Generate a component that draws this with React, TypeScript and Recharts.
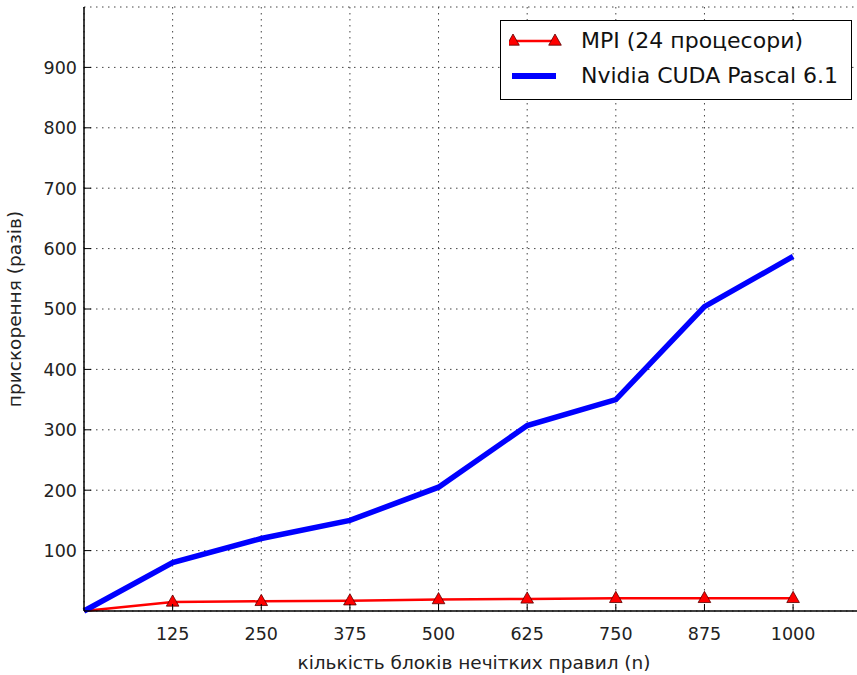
import {
  CartesianGrid,
  Legend,
  Line,
  LineChart,
  XAxis,
  YAxis,
} from 'recharts'

const blocks = [0, 125, 250, 375, 500, 625, 750, 875, 1000]
const mpiSpeedup = [0, 15, 16, 17, 19, 20, 21, 21, 21]
const cudaSpeedup = [0, 80, 120, 150, 205, 307, 350, 504, 587]
const xTicks = [125, 250, 375, 500, 625, 750, 875, 1000]
const yTicks = [100, 200, 300, 400, 500, 600, 700, 800, 900]

const seriesNames = ['MPI (24 процесори)', 'Nvidia CUDA Pascal 6.1']

const data = blocks.map((n, i) => ({
  n,
  mpi: mpiSpeedup[i],
  cuda: cudaSpeedup[i],
}))

const FONT = '"DejaVu Sans", Verdana, sans-serif'
const TICK_LEN = 7

function triangle(cx: number, cy: number, r: number) {
  return `M${cx},${cy - r} L${cx + r * 0.9},${cy + r * 0.6} L${cx - r * 0.9},${cy + r * 0.6} Z`
}

function TriangleDot(props: any) {
  const { cx, cy, index } = props
  // the marker at the origin is hidden under the thick blue line
  if (cx == null || cy == null || index === 0) return <g key={`d-${index}`} />
  return (
    <path
      key={`d-${index}`}
      d={triangle(cx, cy, 7)}
      fill="#ff0000"
      stroke="#5a0000"
      strokeWidth={0.8}
    />
  )
}

function BottomTick(props: any) {
  const { x, y, payload } = props
  return (
    <g>
      <line x1={x} x2={x} y1={y - 16} y2={y - 16 - TICK_LEN} stroke="#000" />
      <text
        x={x}
        y={y}
        dy="0.73em"
        textAnchor="middle"
        fontFamily={FONT}
        fontSize={17.5}
        fill="#222"
      >
        {payload.value}
      </text>
    </g>
  )
}

function LeftTick(props: any) {
  const { x, y, payload } = props
  return (
    <g>
      <line x1={x + 7} x2={x + 7 + TICK_LEN} y1={y} y2={y} stroke="#000" />
      <text
        x={x}
        y={y}
        dy="0.36em"
        textAnchor="end"
        fontFamily={FONT}
        fontSize={17.5}
        fill="#222"
      >
        {payload.value}
      </text>
    </g>
  )
}

function TopTick(props: any) {
  const { x, y } = props
  return <line x1={x} x2={x} y1={y} y2={y + TICK_LEN} stroke="#000" />
}

function LegendBox() {
  return (
    <div
      style={{
        width: 352,
        height: 80,
        boxSizing: 'border-box',
        border: '1.5px solid #000',
        background: '#fff',
        fontFamily: FONT,
        fontSize: 22,
        color: '#111',
        paddingTop: 2,
      }}
    >
      <div style={{ display: 'flex', alignItems: 'center', height: 35 }}>
        <svg width={72} height={20} style={{ marginLeft: 8, flex: 'none' }}>
          <line x1={3} x2={47} y1={10} y2={10} stroke="#ff0000" strokeWidth={2.5} />
          <path d={triangle(4, 10, 7)} fill="#ff0000" stroke="#5a0000" strokeWidth={0.8} />
          <path d={triangle(46, 10, 7)} fill="#ff0000" stroke="#5a0000" strokeWidth={0.8} />
        </svg>
        <span style={{ whiteSpace: 'nowrap' }}>{seriesNames[0]}</span>
      </div>
      <div style={{ display: 'flex', alignItems: 'center', height: 35 }}>
        <svg width={72} height={20} style={{ marginLeft: 8, flex: 'none' }}>
          <line x1={3} x2={47} y1={10} y2={10} stroke="#0000ff" strokeWidth={6} />
        </svg>
        <span style={{ whiteSpace: 'nowrap' }}>{seriesNames[1]}</span>
      </div>
    </div>
  )
}

export default function App() {
  return (
    <div
      style={{
        position: 'fixed',
        left: 0,
        top: 0,
        width: 857,
        height: 675,
        overflow: 'hidden',
        background: '#fff',
      }}
    >
      <LineChart
        width={900}
        height={675}
        data={data}
        margin={{ top: 7, right: 36, bottom: 0, left: 0 }}
      >
        <CartesianGrid
          stroke="#444"
          strokeDasharray="1.5 4.5"
          strokeWidth={1}
        />
        <XAxis
          dataKey="n"
          type="number"
          domain={[0, 1100]}
          ticks={xTicks}
          height={64}
          tickSize={0}
          tickMargin={16}
          tick={<BottomTick />}
          axisLine={{ stroke: '#000', strokeWidth: 1.5 }}
          label={{
            value: 'кількість блоків нечітких правил (n)',
            position: 'insideBottom',
            offset: 6,
            style: { fontFamily: FONT, fontSize: 18.5, fill: '#222' },
          }}
        />
        <XAxis
          xAxisId="top"
          orientation="top"
          dataKey="n"
          type="number"
          domain={[0, 1100]}
          ticks={xTicks}
          height={0}
          tickSize={0}
          tickMargin={0}
          tick={<TopTick />}
          axisLine={{ stroke: '#000', strokeWidth: 1.5 }}
        />
        <YAxis
          type="number"
          domain={[0, 1000]}
          ticks={yTicks}
          width={84}
          tickSize={0}
          tickMargin={7}
          tick={<LeftTick />}
          axisLine={{ stroke: '#000', strokeWidth: 1.5 }}
          label={{
            value: 'прискорення (разів)',
            angle: -90,
            position: 'insideLeft',
            offset: 14,
            style: {
              fontFamily: FONT,
              fontSize: 18.5,
              fill: '#222',
              textAnchor: 'middle',
            },
          }}
        />
        <Legend
          layout="vertical"
          align="center"
          verticalAlign="middle"
          wrapperStyle={{ left: 500, top: 20, width: 352 }}
          content={() => <LegendBox />}
        />
        <Line
          dataKey="mpi"
          name={seriesNames[0]}
          stroke="#ff0000"
          strokeWidth={2.5}
          dot={<TriangleDot />}
          activeDot={false}
          isAnimationActive={false}
        />
        <Line
          dataKey="cuda"
          name={seriesNames[1]}
          stroke="#0000ff"
          strokeWidth={5.5}
          dot={false}
          activeDot={false}
          isAnimationActive={false}
        />
      </LineChart>
    </div>
  )
}
